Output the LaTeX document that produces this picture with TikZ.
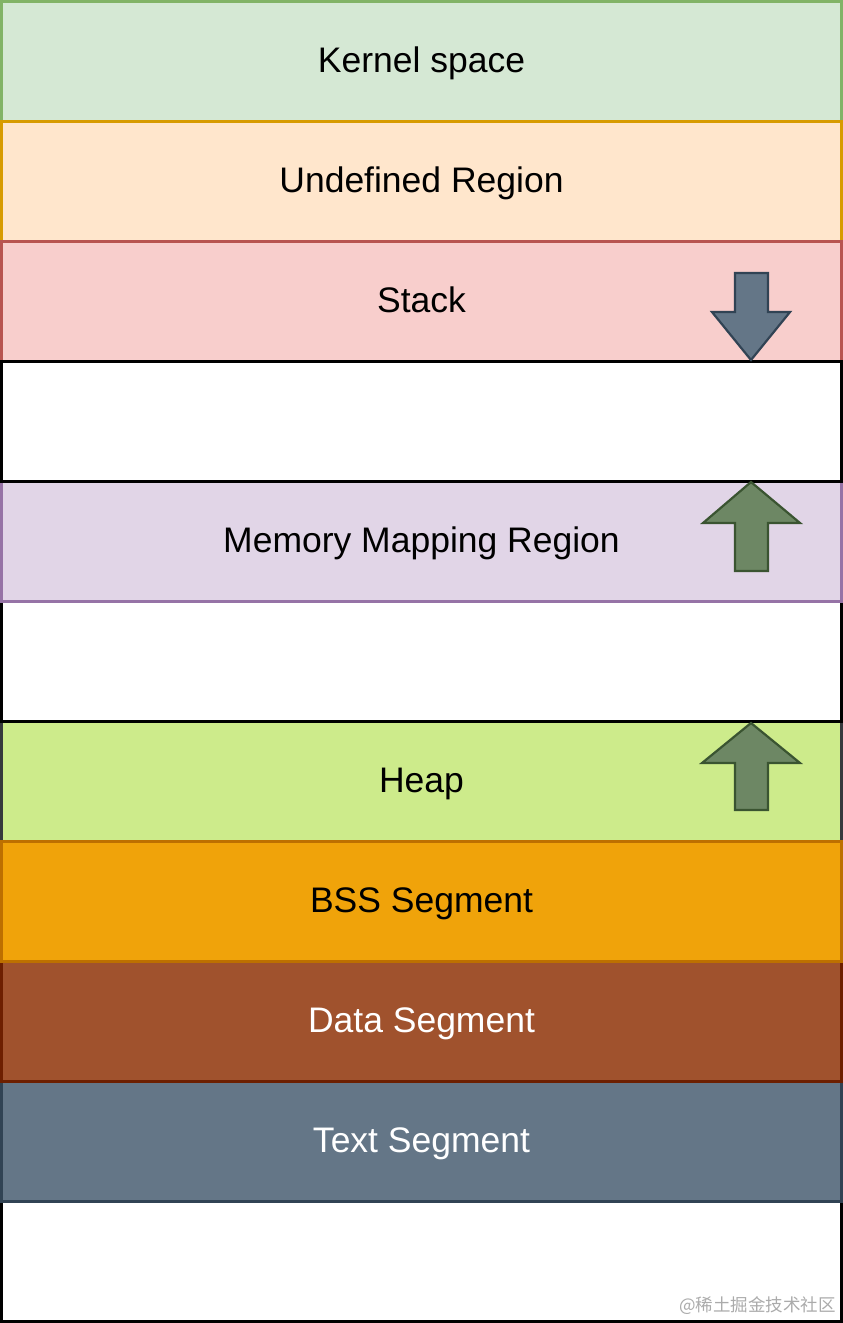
\documentclass[tikz,border=0pt]{standalone}
\usepackage{fontspec}
\setmainfont{Liberation Sans}
\newfontfamily\cjk{Noto Sans CJK SC}
\definecolor{kfill}{HTML}{D5E8D4}\definecolor{kline}{HTML}{82B366}
\definecolor{ufill}{HTML}{FFE6CC}\definecolor{uline}{HTML}{D79B00}
\definecolor{sfill}{HTML}{F8CECC}\definecolor{sline}{HTML}{B85450}
\definecolor{mfill}{HTML}{E1D5E7}\definecolor{mline}{HTML}{9673A6}
\definecolor{hfill}{HTML}{CDEB8B}\definecolor{hline}{HTML}{36393D}
\definecolor{bfill}{HTML}{F0A30A}\definecolor{bline}{HTML}{BD7000}
\definecolor{dfill}{HTML}{A0522D}\definecolor{dline}{HTML}{6D1F00}
\definecolor{tfill}{HTML}{647687}\definecolor{tline}{HTML}{314354}
\definecolor{gfill}{HTML}{6D8764}\definecolor{gline}{HTML}{3A5431}
\definecolor{wmark}{HTML}{ABABAB}
\begin{document}
\begin{tikzpicture}[x=1pt,y=-1pt,
  band/.style={rectangle,minimum width=840pt,minimum height=120pt,inner sep=0pt,
    line width=2.5pt,text height=30pt,text depth=7.6pt,font=\fontsize{35.5}{42}\selectfont},
  arrowshape/.style={line width=2.2pt,line join=miter}]
\useasboundingbox (0,0) rectangle (843,1323);
\node[band,fill=kfill,draw=kline] (kernel) at (421.5,61.5) {Kernel space};
\node[band,fill=ufill,draw=uline] (undef) at (421.5,181.5) {Undefined Region};
\node[band,fill=sfill,draw=sline] (stack) at (421.5,301.5) {Stack};
\node[band,fill=hfill,draw=hline] (heap) at (421.5,781.5) {Heap};
\node[band,fill=white,draw=black] (gap2) at (421.5,661.5) {};
\node[band,fill=mfill,draw=mline] (mmap) at (421.5,541.5) {Memory Mapping Region};
\node[band,fill=white,draw=black] (gap1) at (421.5,421.5) {};
\node[band,fill=white,draw=black] (gap3) at (421.5,1261.5) {};
\node[band,fill=tfill,draw=tline,text=white] (text) at (421.5,1141.5) {Text Segment};
\node[band,fill=dfill,draw=dline,text=white] (data) at (421.5,1021.5) {Data Segment};
\node[band,fill=bfill,draw=bline] (bss) at (421.5,901.5) {BSS Segment};
% stack growth arrow (down)
\draw[arrowshape,fill=tfill,draw=tline]
  (735,273) -- (768,273) -- (768,312) -- (790,312) -- (751,360) -- (712,312) -- (735,312) -- cycle;
% mmap growth arrow (up)
\draw[arrowshape,fill=gfill,draw=gline]
  (751,482) -- (800,523) -- (768,523) -- (768,571) -- (735,571) -- (735,523) -- (703,523) -- cycle;
% heap growth arrow (up)
\draw[arrowshape,fill=gfill,draw=gline]
  (751,723) -- (800,763) -- (768,763) -- (768,810) -- (735,810) -- (735,763) -- (702,763) -- cycle;
\node[anchor=east,inner sep=0pt,text=wmark,font=\cjk\fontsize{17.5}{19}\selectfont] (wm) at (836,1306) {@稀土掘金技术社区};
\end{tikzpicture}
\end{document}
